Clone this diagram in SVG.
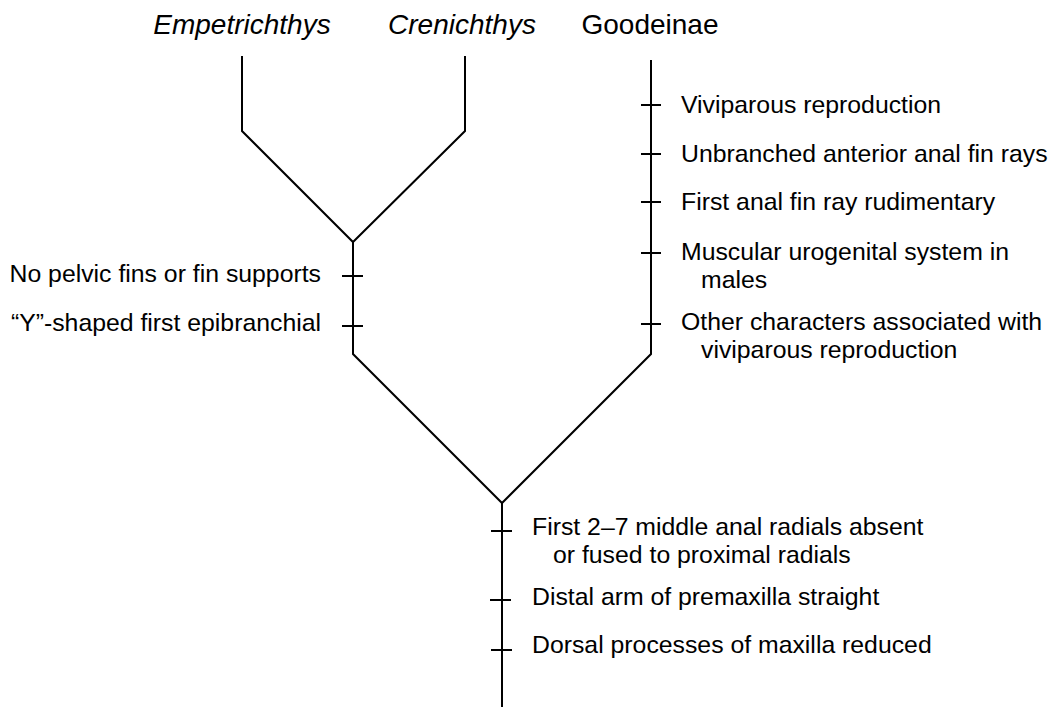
<svg xmlns="http://www.w3.org/2000/svg" width="1050" height="707" viewBox="0 0 1050 707">
<style>
.ln{fill:none;stroke:#000;stroke-width:2;stroke-linejoin:miter}
.tk{stroke:#000;stroke-width:2}
.hd{font-family:"Liberation Sans",Arial,sans-serif;font-size:28px;fill:#000}
.it{font-style:italic}
.lb{font-family:"Liberation Sans",Arial,sans-serif;font-size:24.8px;fill:#000}
</style>
<rect width="1050" height="707" fill="#fff"/>
<g id="taxon-empetrichthys"><text class="hd it" x="242" y="34" text-anchor="middle">Empetrichthys</text></g>
<g id="taxon-crenichthys"><text class="hd it" x="462" y="34" text-anchor="middle">Crenichthys</text></g>
<g id="taxon-goodeinae"><text class="hd" x="650" y="34" text-anchor="middle">Goodeinae</text></g>
<g id="connectors">
<path class="ln" d="M242,56 V131 L353,242 L465,131 V56"/>
<path class="ln" d="M353,242 V354 L502,503 L651,354 V60"/>
<path class="ln" d="M502,503 V707"/>
</g>
<g id="ticks">
<path class="tk" d="M641,105 H661 M641,154 H661 M641,202 H661 M641,253 H661 M641,324 H661"/>
<path class="tk" d="M342,276 H363 M342,326 H363"/>
<path class="tk" d="M491,531 H512 M490,600 H511 M491,650 H512"/>
</g>
<g id="goodeinae-characters">
<text class="lb" x="681" y="113">Viviparous reproduction</text>
<text class="lb" x="681" y="162">Unbranched anterior anal fin rays</text>
<text class="lb" x="681" y="210">First anal fin ray rudimentary</text>
<text class="lb" x="681" y="260">Muscular urogenital system in</text>
<text class="lb" x="701" y="288">males</text>
<text class="lb" x="681" y="330">Other characters associated with</text>
<text class="lb" x="701" y="358">viviparous reproduction</text>
</g>
<g id="empetrichthyinae-characters">
<text class="lb" x="321" y="282" text-anchor="end">No pelvic fins or fin supports</text>
<text class="lb" x="321" y="331" text-anchor="end">“Y”-shaped first epibranchial</text>
</g>
<g id="root-characters">
<text class="lb" x="532" y="535">First 2–7 middle anal radials absent</text>
<text class="lb" x="553" y="563">or fused to proximal radials</text>
<text class="lb" x="532" y="605">Distal arm of premaxilla straight</text>
<text class="lb" x="532" y="653">Dorsal processes of maxilla reduced</text>
</g>
</svg>
